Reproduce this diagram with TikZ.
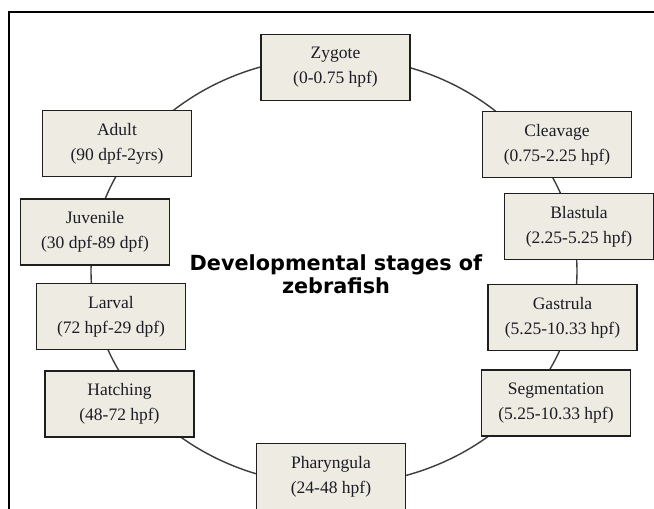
\documentclass[tikz,border=0pt]{standalone}
\usepackage{fontspec}
\setmainfont{Liberation Serif}
\newfontfamily\titlefont{DejaVu Sans}
\definecolor{boxfill}{HTML}{EDEBE2}
\definecolor{boxline}{HTML}{1E1E1E}
\definecolor{ringline}{HTML}{3C3C3C}
\definecolor{textcol}{HTML}{1C1C24}
\tikzset{
  stagebox/.style={draw=boxline, line width=1.7pt, fill=boxfill, minimum width=149pt, minimum height=66pt,
    inner sep=0pt, align=center, text=textcol, font=\fontsize{17.5}{25}\selectfont},
  ring/.style={draw=ringline, line width=1.4pt},
  frameline/.style={draw=black, line width=1.3pt},
  titletext/.style={align=center, inner sep=0pt, font=\titlefont\bfseries\fontsize{20.8}{23.5}\selectfont}
}
\begin{document}
\begin{tikzpicture}[x=1pt,y=-1pt]
\useasboundingbox (0,0) rectangle (654,509);
\clip (0,0) rectangle (654,509);
\fill[white] (0,0) rectangle (654,509);
% frame
\coordinate (fbl) at (9,515);
\coordinate (ftl) at (9,12);
\coordinate (ftr) at (660,12);
\draw[frameline] (fbl) -- (ftl) -- (ftr);
% ring
\coordinate (ringc) at (334,271);
\draw[ring] (ringc) ellipse [x radius=243pt, y radius=214pt];
% stages
\node[stagebox] (zygote) at (335.5,67.5) {Zygote\\(0-0.75 hpf)};
\node[stagebox] (cleavage) at (557,144.5) {Cleavage\\(0.75-2.25 hpf)};
\node[stagebox] (blastula) at (579,226.5) {Blastula\\(2.25-5.25 hpf)};
\node[stagebox] (gastrula) at (562.5,317.5) {Gastrula\\(5.25-10.33 hpf)};
\node[stagebox] (segmentation) at (556,403) {Segmentation\\(5.25-10.33 hpf)};
\node[stagebox] (pharyngula) at (331,476.5) {Pharyngula\\(24-48 hpf)};
\node[stagebox] (hatching) at (119.5,404) {Hatching\\(48-72 hpf)};
\node[stagebox] (larval) at (111,316.5) {Larval\\(72 hpf-29 dpf)};
\node[stagebox] (juvenile) at (95,232) {Juvenile\\(30 dpf-89 dpf)};
\node[stagebox] (adult) at (117,143.5) {Adult\\(90 dpf-2yrs)};
% title
\node[titletext] (title) at (336,274) {Developmental stages of\\zebrafish};
\end{tikzpicture}
\end{document}
